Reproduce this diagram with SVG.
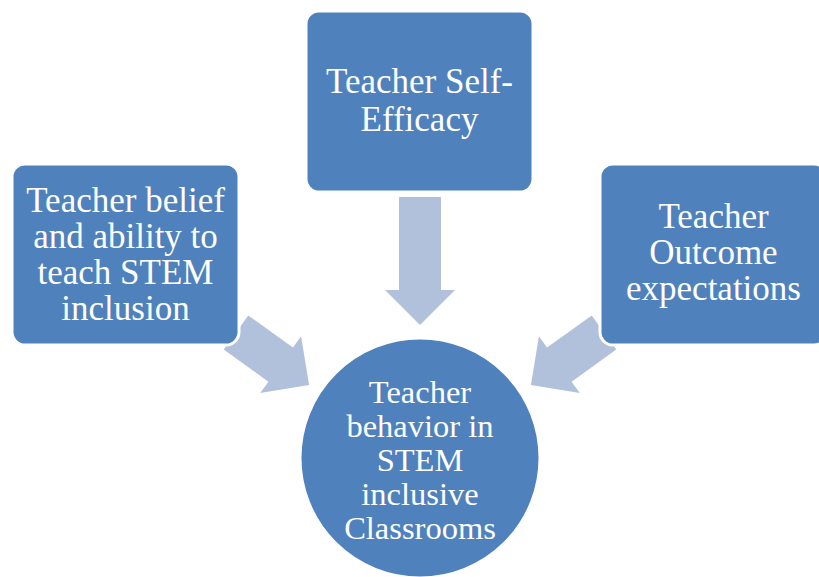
<svg xmlns="http://www.w3.org/2000/svg" width="819" height="577" viewBox="0 0 819 577">
  <defs>
    <style>
      .node { fill: #4F81BD; stroke: #FFFFFF; stroke-width: 3; }
      .arrow { fill: #B2C1DB; stroke: none; }
      .label { fill: #FFFFFF; font-family: "Liberation Serif", "DejaVu Serif", serif; font-size: 35px; text-anchor: middle; }
      .label.small { font-size: 32.5px; }
    </style>
    <!-- block arrow pointing along +x, tail centred at the origin -->
    <path id="blockArrow" d="M0,-21 L55,-21 L55,-35 L90,0 L55,35 L55,21 L0,21 Z"/>
  </defs>

  <rect width="819" height="577" fill="#FFFFFF"/>

  <!-- connectors: block arrows into the central outcome -->
  <g id="connectors">
    <use href="#blockArrow" class="arrow" transform="translate(236,332.5) rotate(35.7)"/>
    <path class="arrow" d="M399,197 L441,197 L441,290 L455,290 L420,325 L385,290 L399,290 Z"/>
    <use href="#blockArrow" class="arrow" transform="translate(604,332.5) rotate(144.3)"/>
  </g>

  <g id="node-belief">
    <rect class="node" x="12" y="164" width="227" height="181" rx="13"/>
    <text class="label" x="125.5" y="212">Teacher belief</text>
    <text class="label" x="125.5" y="248">and ability to</text>
    <text class="label" x="125.5" y="284">teach STEM</text>
    <text class="label" x="125.5" y="320">inclusion</text>
  </g>

  <g id="node-self-efficacy">
    <rect class="node" x="306" y="11" width="227" height="181" rx="13"/>
    <text class="label" x="419.5" y="93">Teacher Self-</text>
    <text class="label" x="419.5" y="131">Efficacy</text>
  </g>

  <g id="node-outcome">
    <rect class="node" x="600" y="164" width="227" height="181" rx="13"/>
    <text class="label" x="713.5" y="228">Teacher</text>
    <text class="label" x="713.5" y="264">Outcome</text>
    <text class="label" x="713.5" y="300">expectations</text>
  </g>

  <g id="node-behavior">
    <circle class="node" cx="420" cy="458" r="120"/>
    <text class="label small" x="420" y="403">Teacher</text>
    <text class="label small" x="420" y="437">behavior in</text>
    <text class="label small" x="420" y="471">STEM</text>
    <text class="label small" x="420" y="505">inclusive</text>
    <text class="label small" x="420" y="539">Classrooms</text>
  </g>
</svg>
